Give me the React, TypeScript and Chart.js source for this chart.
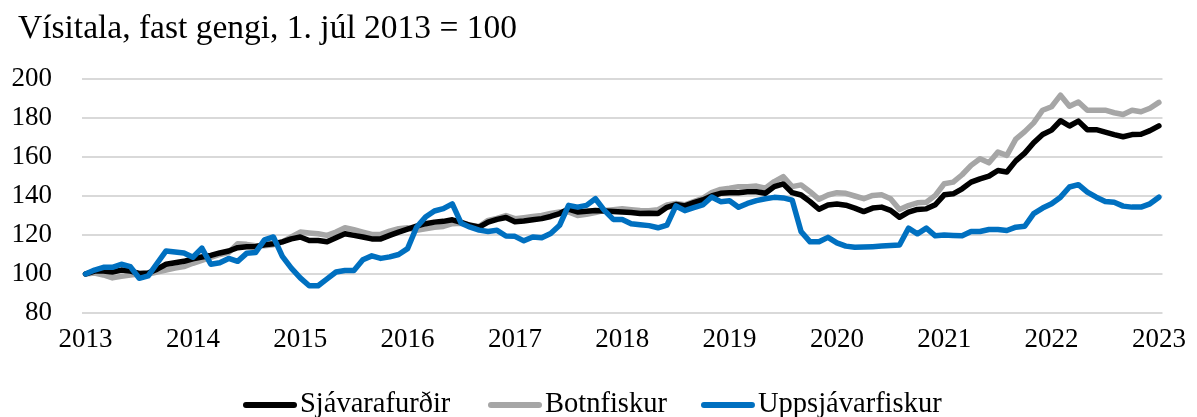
import React, { useEffect, useRef } from "react";
import { Chart, registerables } from "chart.js";

Chart.register(...registerables);

// Year tick labels (one every 12 months, starting July 2013 = index 0)
const years = ["2013", "2014", "2015", "2016", "2017", "2018", "2019", "2020", "2021", "2022", "2023"];
const yTicks = [80, 100, 120, 140, 160, 180, 200];

const seriesNames = ["Sjávarafurðir", "Botnfiskur", "Uppsjávarfiskur"];
const seriesColors = ["#000000", "#a6a6a6", "#0070c0"];

// Monthly index values
const sjavarafurdir = [
  100, 101.5, 101.5, 101, 102, 101.5, 100.3, 100.5, 102.5, 105,
  105.8, 106.5, 107.8, 108.7, 109.5, 110.8, 111.8, 113.5, 114, 114,
  115, 115.5, 116.5, 118, 119, 117.2, 117.2, 116.5, 118.6, 120.6,
  119.8, 119, 118, 118, 119.8, 121.5, 123, 124.5, 125.8, 126.6,
  127, 127.8, 126.5, 125, 124, 126.6, 128, 129, 126.8, 127.2,
  127.8, 128.4, 129.5, 131, 133.3, 131.8, 132.2, 132.6, 132.3, 132,
  131.8, 131.5, 131, 131.1, 131, 134.2, 135.6, 134.9, 136.6, 138,
  140, 141.4, 141.7, 141.7, 142.2, 142.2, 141.4, 144.8, 146.2, 141.7,
  140.5, 137.1, 133.2, 135.4, 135.9, 135.3, 133.8, 132, 133.8, 134.3,
  132.6, 129.1, 131.7, 133.1, 133.4, 135.5, 140.6, 141.1, 143.7, 147.1,
  148.8, 150.2, 153.1, 152.3, 158, 162, 167.3, 171.5, 173.8, 178.6,
  175.9, 178.4, 174, 174, 172.8, 171.5, 170.4, 171.5, 171.7, 173.5,
  176,
];

const botnfiskur = [
  100, 100.5, 99.5, 98, 98.8, 99.5, 100, 100, 101, 102,
  103, 103.8, 105.5, 107, 108.5, 110, 111, 115.5, 115.2, 114.5,
  114.5, 115, 116.5, 119, 121.5, 121, 120.6, 119.8, 121.5, 123.7,
  122.7, 121.5, 120.3, 120.3, 122, 123.2, 123.7, 122.4, 123.2, 124,
  124.4, 125.8, 126, 125, 124.4, 127.5, 128.5, 130, 128.4, 128.9,
  129.5, 130, 131, 131.8, 131.8, 130, 130.6, 131.5, 132.6, 133,
  133.5, 133, 132.6, 132.5, 133, 135.4, 136.2, 135.5, 137.1, 138.8,
  141.7, 143.4, 144, 144.8, 144.8, 145.1, 144, 147.4, 149.9, 144.8,
  145.7, 142.2, 138.3, 140.5, 141.7, 141.4, 140, 138.6, 140.3, 140.6,
  138.6, 133.1, 135.1, 136.5, 136.8, 140.3, 146.3, 147.1, 150.9, 155.7,
  159.1, 157, 162.5, 160.8, 169.2, 173, 177.5, 184, 185.8, 191.7,
  186, 188.2, 184, 184, 184, 182.7, 181.8, 184, 183.2, 185,
  188,
];

const uppsjavarfiskur = [
  100, 102, 103.4, 103.4, 105, 103.8, 97.8, 99, 105.5, 111.8,
  111.3, 110.8, 108.6, 113.3, 105, 105.8, 108, 106.5, 110.6, 111,
  117.5, 119, 109, 103, 98, 94, 94, 97.5, 101, 101.8,
  101.8, 107.3, 109.3, 108, 108.8, 110, 113, 124, 129.2, 132.3,
  133.5, 136, 126, 124, 122.5, 121.8, 122.4, 119.5, 119.3, 117,
  119, 118.6, 120.8, 125, 135.2, 134.3, 135.2, 138.6, 132.6, 128,
  128, 125.8, 125.3, 124.8, 123.7, 125.1, 134.9, 132.5, 134, 135.4,
  139.5, 137.1, 137.6, 134.2, 136.2, 137.6, 138.6, 139.3, 139, 137.9,
  121.7, 116.5, 116.5, 118.8, 116, 114.3, 113.7, 113.8, 114, 114.3,
  114.6, 114.9, 123.5, 120.6, 123.5, 119.6, 120, 119.8, 119.6, 121.8,
  121.8, 122.8, 122.8, 122.3, 124, 124.5, 131, 133.8, 136, 139.4,
  144.6, 145.8, 142, 139.4, 137.2, 136.8, 134.8, 134.3, 134.3, 136,
  139.4,
];

const FONT = "'Liberation Serif', 'Times New Roman', serif";

export default function App() {
  const canvasRef = useRef<HTMLCanvasElement | null>(null);

  useEffect(() => {
    if (!canvasRef.current) return;
    const toPoints = (arr: number[]) => arr.map((v, i) => ({ x: i, y: v }));
    const mk = (k: number, arr: number[], order: number) => ({
      label: seriesNames[k],
      data: toPoints(arr),
      borderColor: seriesColors[k],
      backgroundColor: seriesColors[k],
      borderWidth: 5.5,
      borderJoinStyle: "round" as const,
      borderCapStyle: "round" as const,
      pointRadius: 0,
      tension: 0,
      order,
    });
    const chart = new Chart(canvasRef.current, {
      type: "line",
      data: {
        datasets: [mk(0, sjavarafurdir, 1), mk(1, botnfiskur, 2), mk(2, uppsjavarfiskur, 0)],
      },
      options: {
        animation: false,
        responsive: false,
        layout: { padding: { left: 0, right: 33, top: 79, bottom: 44 } },
        plugins: {
          legend: { display: false },
          title: { display: false },
          tooltip: { enabled: false },
        },
        scales: {
          x: {
            type: "linear",
            min: -0.4,
            max: (years.length - 1) * 12 + 0.4,
            afterBuildTicks: (scale: any) => {
              scale.ticks = years.map((_, k) => ({ value: k * 12 }));
            },
            afterFit: (scale: any) => {
              scale.height = 60;
            },
            ticks: {
              autoSkip: false,
              maxRotation: 0,
              padding: 11,
              color: "#000",
              font: { family: FONT, size: 27 },
              callback: (v: any) => years[Math.round(Number(v) / 12)] ?? "",
            },
            grid: { display: false, drawTicks: false },
            border: { display: false },
          },
          y: {
            min: yTicks[0],
            max: yTicks[yTicks.length - 1],
            afterBuildTicks: (scale: any) => {
              scale.ticks = yTicks.map((v) => ({ value: v }));
            },
            afterFit: (scale: any) => {
              scale.width = 82;
            },
            ticks: {
              padding: 30,
              color: "#000",
              font: { family: FONT, size: 27 },
            },
            grid: { color: "#d9d9d9", lineWidth: 2, drawTicks: false },
            border: { display: false },
          },
        },
      },
    });
    return () => chart.destroy();
  }, []);

  const legendLefts = [243, 488, 701];

  return (
    <div style={{ position: "fixed", left: 0, top: 0, width: 1197, height: 417, background: "#fff", fontFamily: FONT }}>
      <canvas ref={canvasRef} width={1197} height={417} style={{ position: "absolute", left: 0, top: 0 }} />
      <div
        style={{
          position: "absolute",
          left: 18,
          top: 10,
          fontSize: 33.5,
          lineHeight: 1,
          color: "#000",
          whiteSpace: "nowrap",
        }}
      >
        Vísitala, fast gengi, 1. júl 2013 = 100
      </div>
      {seriesNames.map((name, k) => (
        <div
          key={name}
          style={{
            position: "absolute",
            left: legendLefts[k],
            top: 389,
            display: "flex",
            alignItems: "center",
            fontSize: 28.5,
            lineHeight: 1,
            whiteSpace: "nowrap",
            color: "#000",
          }}
        >
          <span
            style={{
              display: "inline-block",
              width: 54,
              height: 6,
              borderRadius: 3,
              background: seriesColors[k],
              marginRight: 3,
              transform: "translateY(2px)",
            }}
          />
          <span>{name}</span>
        </div>
      ))}
    </div>
  );
}
